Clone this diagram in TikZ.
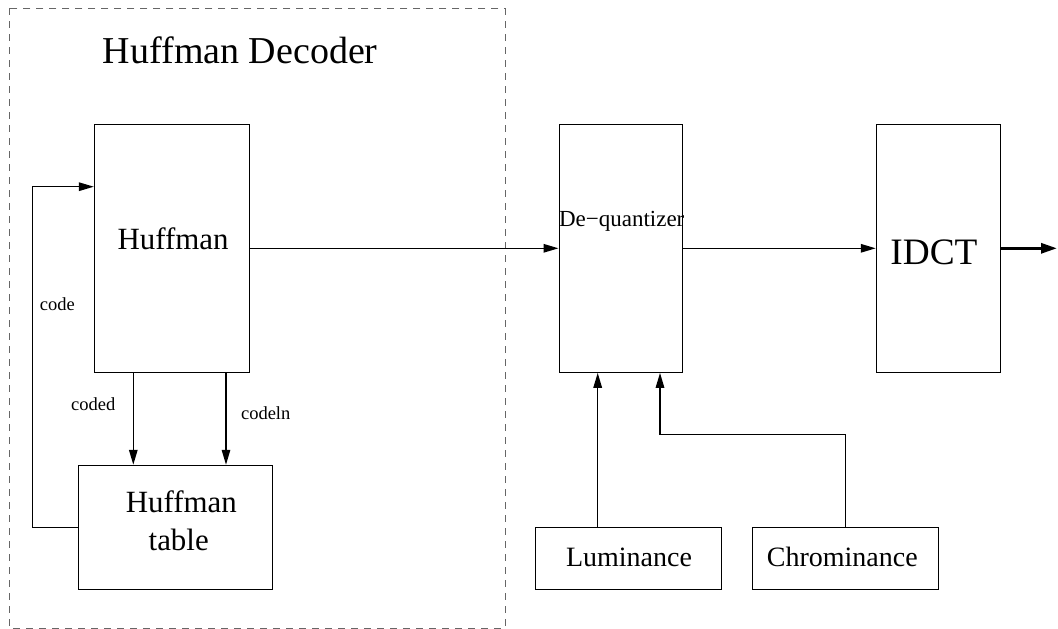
\documentclass[tikz,border=0pt]{standalone}
\usepackage{fontspec}
\setmainfont{Liberation Serif}
\usetikzlibrary{arrows.meta}

\tikzset{
  blk/.style={draw, line width=1.1pt, rectangle, inner sep=0pt},
  arr/.style={line width=1.5pt, -{Triangle[length=15pt,width=8.5pt]}},
  bigarr/.style={line width=3pt, -{Triangle[length=16pt,width=10pt]}},
  txt/.style={anchor=base, inner sep=0pt},
  fbig/.style={font=\fontsize{30.9}{38}\selectfont},
  fsmall/.style={font=\fontsize{18.5}{22}\selectfont},
  fmid/.style={font=\fontsize{28}{34}\selectfont},
}

\begin{document}
\begin{tikzpicture}[x=1pt, y=-1pt]
\useasboundingbox (0,0) rectangle (1058,629);

% decoder group
\draw[line width=1pt, gray!80!black, dash pattern=on 7pt off 6pt] (9,8.3) rectangle (505,628);
\node[txt, font=\fontsize{38}{44}\selectfont] (title) at (240.3,63.3) {Huffman Decoder};

% blocks
\node[blk, minimum width=155pt, minimum height=248pt] (huff) at (171.9,248.3) {};
\node[txt, fbig] (hufftxt) at (173,249) {Huffman};

\node[blk, minimum width=194pt, minimum height=124pt] (tab) at (175.7,527.3) {};
\node[txt, fbig] (tabtxt1) at (181.3,512.7) {Huffman};
\node[txt, fbig] (tabtxt2) at (178.7,550.7) {table};

\node[blk, minimum width=123.7pt, minimum height=248pt] (deq) at (620.9,248.3) {};
\node[txt, font=\fontsize{23}{28}\selectfont] (deqtxt) at (621.7,226) {De−quantizer};

\node[blk, minimum width=124pt, minimum height=248pt] (idct) at (938.3,248.3) {};
\node[txt, font=\fontsize{37.3}{44}\selectfont] (idcttxt) at (934,264) {IDCT};

\node[blk, fmid, minimum width=185.6pt, minimum height=62pt] (lum) at (628.5,558.3) {};
\node[txt, fmid] (lumtxt) at (629,566) {Luminance};

\node[blk, fmid, minimum width=186pt, minimum height=62pt] (chr) at (845.3,558.3) {};
\node[txt, fmid] (chrtxt) at (842.3,566) {Chrominance};

% helper points
\coordinate (fb) at (32.3,186.7);
\coordinate (c1) at (133.3,0);
\coordinate (c2) at (226,0);
\coordinate (l1) at (597.7,0);
\coordinate (k1) at (660,434.7);
\coordinate (out) at (1057,248.3);

% connectors
\draw[arr] (tab.west) -| (fb) -- (huff.west |- fb);
\draw[arr] (huff.south -| c1) -- (tab.north -| c1);
\draw[arr] (huff.south -| c2) -- (tab.north -| c2);
\draw[arr] (huff.east) -- (deq.west);
\draw[arr] (deq.east) -- (idct.west);
\draw[bigarr] (idct.east) -- (out);
\draw[arr] (lum.north -| l1) -- (deq.south -| l1);
\draw[arr] (chr.north) |- (k1) -- (deq.south -| k1);

% labels
\node[txt, fsmall] (lcode) at (57.3,310.7) {code};
\node[txt, fsmall] (lcoded) at (93.3,410.7) {coded};
\node[txt, fsmall] (lcodeln) at (265.7,419) {codeln};
\end{tikzpicture}
\end{document}
